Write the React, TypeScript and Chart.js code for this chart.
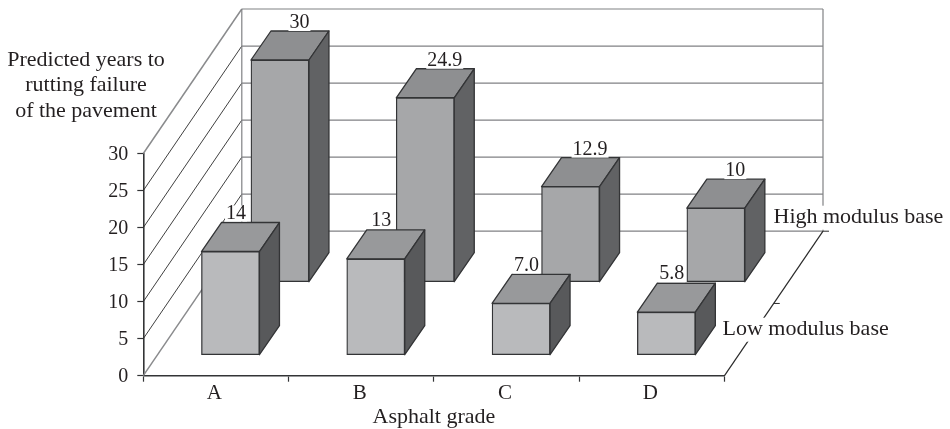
import React, { useEffect, useRef } from "react";
import { Chart, registerables } from "chart.js";

Chart.register(...registerables);

const grades = ["A", "B", "C", "D"];
const lowModulus = [14, 13, 7.0, 5.8];
const highModulus = [30, 24.9, 12.9, 10];
const lowLabels = ["14", "13", "7.0", "5.8"];
const highLabels = ["30", "24.9", "12.9", "10"];
const yTitleLines = ["Predicted years to", "rutting failure", "of the pavement"];

const FONT = '"Liberation Serif", serif';
const TEXT = "#231f20";
const WALL = { dx: 98.5, dy: -144.5 };
const BAR_DEPTH = { dx: 20, dy: -29 };

const seriesStyle = [
  { off: { dx: 14.5, dy: -20.5 }, top: "#98999b", side: "#58595b", labels: lowLabels, lx: 5.5, ly: -9, name: "Low modulus base" },
  { off: { dx: 64, dy: -93.5 }, top: "#8e8f91", side: "#616264", labels: highLabels, lx: 19.5, ly: -8, name: "High modulus base" },
];

function poly(ctx: CanvasRenderingContext2D, pts: number[][], fill: string) {
  ctx.beginPath();
  pts.forEach((p, i) => (i ? ctx.lineTo(p[0], p[1]) : ctx.moveTo(p[0], p[1])));
  ctx.closePath();
  ctx.fillStyle = fill;
  ctx.fill();
  ctx.lineWidth = 1.3;
  ctx.strokeStyle = "#333436";
  ctx.lineJoin = "round";
  ctx.stroke();
}

function seg(ctx: CanvasRenderingContext2D, x1: number, y1: number, x2: number, y2: number, color: string, w: number) {
  ctx.beginPath();
  ctx.moveTo(x1, y1);
  ctx.lineTo(x2, y2);
  ctx.strokeStyle = color;
  ctx.lineWidth = w;
  ctx.stroke();
}

function boxedText(ctx: CanvasRenderingContext2D, s: string, x: number, y: number, align: CanvasTextAlign, size: number, halfH: number) {
  ctx.font = `${size}px ${FONT}`;
  ctx.textAlign = align;
  ctx.textBaseline = "middle";
  const w = ctx.measureText(s).width;
  const left = align === "center" ? x - w / 2 : x;
  ctx.fillStyle = "#ffffff";
  ctx.fillRect(left - 1, y - halfH, w + 2, halfH * 2);
  ctx.fillStyle = TEXT;
  ctx.fillText(s, x, y);
}

const threeD = {
  id: "threeD",
  beforeDatasetsDraw(chart: any) {
    const { ctx, chartArea, scales } = chart;
    const { left, right, bottom } = chartArea;
    const y = scales.y;
    ctx.save();
    y.ticks.forEach((t: any) => {
      const py = y.getPixelForValue(t.value);
      const isEdge = t.value === 0 || t.value === y.max;
      seg(ctx, left, py, left + WALL.dx, py + WALL.dy, isEdge ? "#8a8b8d" : "#2a2a2a", isEdge ? 1.5 : 0.9);
      seg(ctx, left + WALL.dx, py + WALL.dy, right + WALL.dx, py + WALL.dy, "#808184", 1.2);
    });
    const backBottom = bottom + WALL.dy;
    const backTop = y.getPixelForValue(y.max) + WALL.dy;
    seg(ctx, left + WALL.dx, backTop, left + WALL.dx, backBottom, "#808184", 1.2);
    seg(ctx, right + WALL.dx, backTop, right + WALL.dx, backBottom, "#808184", 1.2);
    // floor's right edge and its ticks
    seg(ctx, right, bottom, right + WALL.dx, backBottom, "#2a2a2a", 1.2);
    seg(ctx, right + WALL.dx, backBottom, right + WALL.dx + 6, backBottom, "#2a2a2a", 1);
    const mx = right + WALL.dx / 2;
    const my = bottom + WALL.dy / 2;
    seg(ctx, mx, my, mx + 6, my, "#2a2a2a", 1);
    ctx.restore();
  },
  beforeDatasetDraw(chart: any, args: any) {
    const { ctx } = chart;
    const st = seriesStyle[args.index];
    ctx.save();
    ctx.translate(st.off.dx, st.off.dy);
    args.meta.data.forEach((b: any) => {
      const half = b.width / 2;
      const l = b.x - half;
      const r = b.x + half;
      const { dx, dy } = BAR_DEPTH;
      poly(ctx, [[l, b.y], [l + dx, b.y + dy], [r + dx, b.y + dy], [r, b.y]], st.top);
      poly(ctx, [[r, b.y], [r + dx, b.y + dy], [r + dx, b.base + dy], [r, b.base]], st.side);
    });
  },
  afterDatasetDraw(chart: any) {
    chart.ctx.restore();
  },
  afterDatasetsDraw(chart: any) {
    const { ctx, chartArea } = chart;
    const { right, bottom } = chartArea;
    ctx.save();
    [1, 0].forEach((i) => {
      const st = seriesStyle[i];
      chart.getDatasetMeta(i).data.forEach((b: any, j: number) => {
        boxedText(ctx, st.labels[j], b.x + st.off.dx + st.lx, b.y + st.off.dy + BAR_DEPTH.dy + st.ly, "center", 20, 8);
      });
    });
    boxedText(ctx, seriesStyle[1].name, right + 49, bottom - 158, "left", 22, 12);
    boxedText(ctx, seriesStyle[0].name, right - 2, bottom - 46, "left", 22, 12);
    ctx.font = `22px ${FONT}`;
    ctx.textAlign = "center";
    ctx.textBaseline = "middle";
    ctx.fillStyle = TEXT;
    yTitleLines.forEach((s, i) => ctx.fillText(s, 86, 60 + i * 25.5));
    ctx.restore();
  },
};

export default function App() {
  const ref = useRef<HTMLCanvasElement>(null);
  useEffect(() => {
    const chart = new Chart(ref.current as HTMLCanvasElement, {
      type: "bar",
      data: {
        labels: grades,
        datasets: [
          { label: "Low modulus base", data: lowModulus, backgroundColor: "#b9babc", borderColor: "#333436", borderWidth: 1.3, borderSkipped: false, grouped: false, barThickness: 58, clip: false } as any,
          { label: "High modulus base", data: highModulus, backgroundColor: "#a6a7a9", borderColor: "#333436", borderWidth: 1.3, borderSkipped: false, grouped: false, barThickness: 58, clip: false } as any,
        ],
      },
      options: {
        responsive: false,
        animation: false,
        devicePixelRatio: 1,
        layout: { padding: { top: 153.5, right: 225.5, left: 0, bottom: 0 } },
        plugins: { legend: { display: false }, title: { display: false }, tooltip: { enabled: false } },
        scales: {
          x: {
            afterFit: (s: any) => { s.height = 53.3; },
            grid: { drawOnChartArea: false, drawTicks: true, tickLength: 6, tickColor: "#333436", tickWidth: 1.2 },
            border: { color: "#333436", width: 1.6 },
            ticks: { color: TEXT, font: { family: FONT, size: 21 }, padding: -1, maxRotation: 0, labelOffset: -1.5 },
            title: { display: true, text: "Asphalt grade", color: TEXT, font: { family: FONT, size: 22 }, padding: { top: 2, bottom: -1.5 } },
          },
          y: {
            min: 0,
            max: 30,
            afterFit: (s: any) => { s.width = 143.3; },
            grid: { drawOnChartArea: false, drawTicks: true, tickLength: 6, tickColor: "#333436", tickWidth: 1.2 },
            border: { color: "#333436", width: 1.6 },
            ticks: { stepSize: 5, color: TEXT, font: { family: FONT, size: 20 }, padding: 9, labelOffset: 1.5 },
          },
        },
      },
      plugins: [threeD],
    } as any);
    return () => chart.destroy();
  }, []);
  return (
    <div style={{ position: "fixed", left: 0, top: 0, width: 950, height: 429, background: "#fff" }}>
      <canvas ref={ref} width={950} height={429} style={{ display: "block" }} />
    </div>
  );
}
